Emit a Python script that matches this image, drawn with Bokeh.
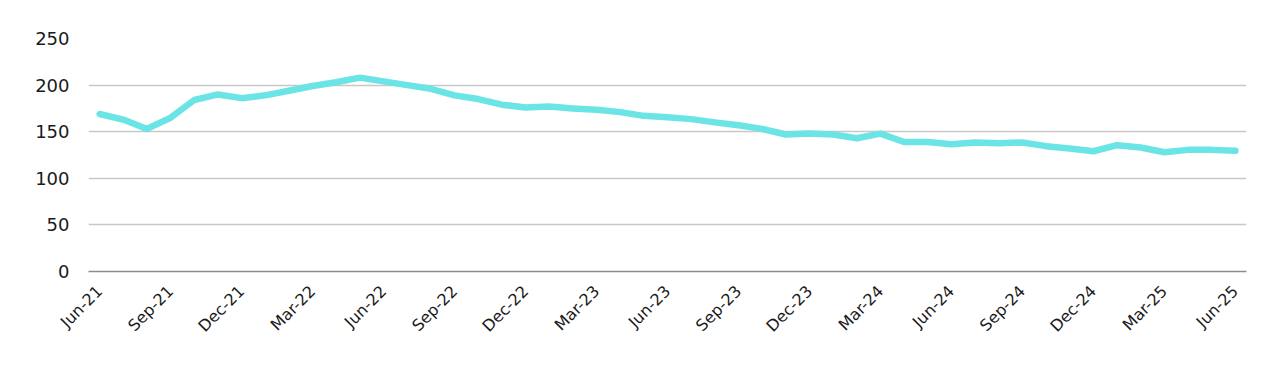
import math
from bokeh.plotting import figure
from bokeh.models import FixedTicker, ColumnDataSource, Range1d
from bokeh.embed import file_html
from bokeh.resources import INLINE

months = ["Jun-21", "Jul-21", "Aug-21", "Sep-21", "Oct-21", "Nov-21", "Dec-21",
          "Jan-22", "Feb-22", "Mar-22", "Apr-22", "May-22", "Jun-22", "Jul-22",
          "Aug-22", "Sep-22", "Oct-22", "Nov-22", "Dec-22", "Jan-23", "Feb-23",
          "Mar-23", "Apr-23", "May-23", "Jun-23", "Jul-23", "Aug-23", "Sep-23",
          "Oct-23", "Nov-23", "Dec-23", "Jan-24", "Feb-24", "Mar-24", "Apr-24",
          "May-24", "Jun-24", "Jul-24", "Aug-24", "Sep-24", "Oct-24", "Nov-24",
          "Dec-24", "Jan-25", "Feb-25", "Mar-25", "Apr-25", "May-25", "Jun-25"]
values = [169, 163, 153, 165, 184, 190, 186, 189, 194, 199, 203, 208, 204, 200,
          196, 189, 185, 179, 176, 177, 175, 173.5, 171, 167, 165.5, 163.5, 160,
          157, 153, 147, 148, 147, 143, 148, 139, 139, 136.5, 138.5, 137.5, 138.5,
          134.5, 132, 129, 135.5, 133, 128, 130.5, 130.5, 129.5]
tick_labels = ["Jun-21", "Sep-21", "Dec-21", "Mar-22", "Jun-22", "Sep-22", "Dec-22",
               "Mar-23", "Jun-23", "Sep-23", "Dec-23", "Mar-24", "Jun-24", "Sep-24",
               "Dec-24", "Mar-25", "Jun-25"]
y_ticks = [0, 50, 100, 150, 200, 250]

x = list(range(len(months)))
src = ColumnDataSource(dict(x=x, y=values, m=months))

p = figure(frame_width=1158, frame_height=233, output_backend="svg", toolbar_location=None,
           x_range=Range1d(-0.47, len(months) - 1 + 0.47), y_range=Range1d(0, 250),
           min_border_left=88, min_border_right=26, min_border_top=38, min_border_bottom=88)
p.outline_line_color = None
p.background_fill_color = "white"
p.border_fill_color = "white"

p.line("x", "y", source=src, line_color="#6be4e6", line_width=6.5, line_join="round", line_cap="round")

tick_pos = [months.index(t) for t in tick_labels]
p.xaxis.ticker = FixedTicker(ticks=tick_pos)
p.xaxis.major_label_overrides = {pos: lab for pos, lab in zip(tick_pos, tick_labels)}
p.xaxis.major_label_orientation = math.pi / 4
p.xaxis.axis_line_color = "#8c8c8c"
p.xaxis.axis_line_width = 1.5
p.xaxis.major_tick_line_color = None
p.xaxis.minor_tick_line_color = None
p.xaxis.major_label_standoff = 11
p.xaxis.major_label_text_font = "DejaVu Sans"
p.xaxis.major_label_text_font_size = "16px"
p.xaxis.major_label_text_color = "#1a1a1a"
p.xgrid.grid_line_color = None

p.yaxis.ticker = FixedTicker(ticks=y_ticks)
p.yaxis.axis_line_color = None
p.yaxis.major_tick_line_color = None
p.yaxis.minor_tick_line_color = None
p.yaxis.major_label_standoff = 13
p.yaxis.major_label_text_font = "DejaVu Sans"
p.yaxis.major_label_text_font_size = "18px"
p.yaxis.major_label_text_color = "#1a1a1a"
p.ygrid.grid_line_color = "#c8c8c8"
p.ygrid.grid_line_width = 1.5

open("out.html", "w").write(file_html(p, INLINE))
